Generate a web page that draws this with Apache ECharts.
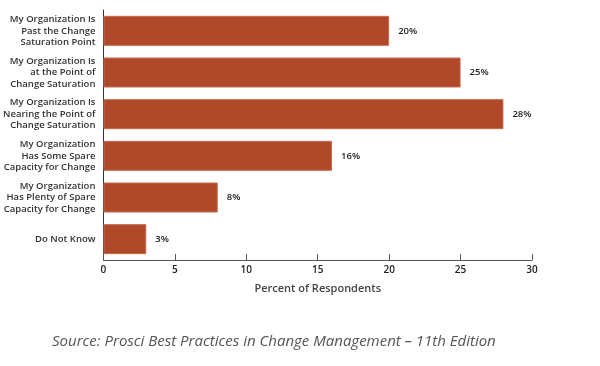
<!DOCTYPE html>
<html><head><meta charset="utf-8">
<script src="https://cdn.jsdelivr.net/npm/echarts@6/dist/echarts.min.js"></script>
<style>html,body{margin:0;padding:0;background:#fff}#c{width:600px;height:366px}</style>
</head><body><div id="c"></div>
<script>
var categories = [
  "My Organization Is\nPast the Change\nSaturation Point",
  "My Organization Is\nat the Point of\nChange Saturation",
  "My Organization Is\nNearing the Point of\nChange Saturation",
  "My Organization\nHas Some Spare\nCapacity for Change",
  "My Organization\nHas Plenty of Spare\nCapacity for Change",
  "Do Not Know"
];
var values = [20, 25, 28, 16, 8, 3];
var xTicks = [0, 5, 10, 15, 20, 25, 30];
var axisTitle = "Percent of Respondents";
var sourceText = "Source: Prosci Best Practices in Change Management \u2013 11th Edition";

var chart = echarts.init(document.getElementById('c'), null, {renderer: 'canvas'});
chart.setOption({
  animation: false,
  textStyle: {fontFamily: 'Open Sans'},
  grid: {left: 98, right: 68, top: 10, bottom: 106, containLabel: false},
  xAxis: {
    type: 'value', min: xTicks[0], max: xTicks[xTicks.length - 1], interval: 5,
    axisLine: {show: true, lineStyle: {color: '#555', width: 1}},
    axisTick: {show: true, inside: true, length: 6, lineStyle: {color: '#555'}},
    splitLine: {show: false},
    axisLabel: {color: '#222', fontSize: 10, fontWeight: 600, margin: 5},
    name: axisTitle, nameLocation: 'middle', nameGap: 23,
    nameTextStyle: {color: '#444', fontSize: 11, fontWeight: 600}
  },
  yAxis: {
    type: 'category', data: categories, inverse: true,
    axisLine: {show: true, lineStyle: {color: '#333', width: 1}},
    axisTick: {show: false},
    axisLabel: {color: '#333', fontSize: 9.5, fontWeight: 600, lineHeight: 11.5, align: 'right', margin: 8}
  },
  series: [{
    type: 'bar', data: values, barWidth: 30,
    itemStyle: {color: '#B0492A', borderColor: '#C86A4D', borderWidth: 1},
    label: {show: true, position: 'right', distance: 9, formatter: '{c}%', color: '#222', fontSize: 9.5, fontWeight: 600}
  }],
  graphic: [{
    type: 'text', left: 52, top: 334,
    style: {text: sourceText, fontFamily: 'Open Sans', fontStyle: 'italic', fontSize: 15, fill: '#555'}
  }]
});
</script></body></html>
